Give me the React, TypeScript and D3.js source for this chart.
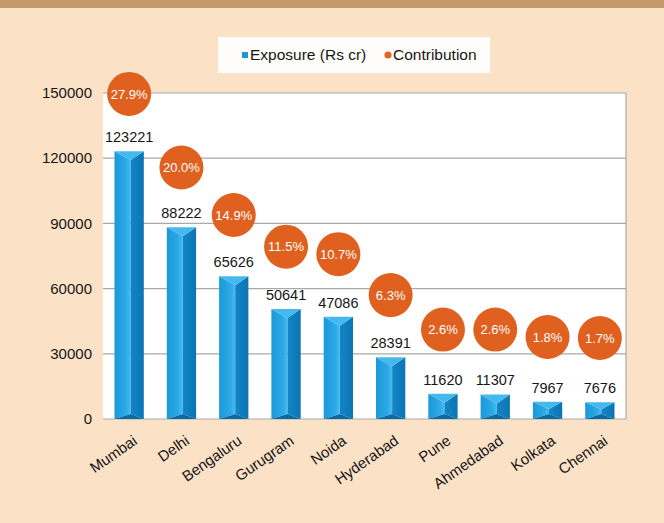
import React from 'react';
import * as d3 from 'd3';

const cities = ['Mumbai', 'Delhi', 'Bengaluru', 'Gurugram', 'Noida', 'Hyderabad', 'Pune', 'Ahmedabad', 'Kolkata', 'Chennai'];
const exposure = [123221, 88222, 65626, 50641, 47086, 28391, 11620, 11307, 7967, 7676];
const contribution = [27.9, 20.0, 14.9, 11.5, 10.7, 6.3, 2.6, 2.6, 1.8, 1.7];
const yTicks = [0, 30000, 60000, 90000, 120000, 150000];

const W = 664;
const H = 523;
const plot = { left: 103, right: 626, top: 93, bottom: 419 };

const font = "'Liberation Sans', Arial, Helvetica, sans-serif";
const narrow = "'Liberation Sans Narrow', 'Liberation Sans', Arial, sans-serif";
const ink = '#161616';

const App: React.FC = () => {
  const x = d3.scaleBand<string>()
    .domain(cities)
    .range([plot.left, plot.right])
    .paddingInner(0.44)
    .paddingOuter(0.22);

  const y = d3.scaleLinear().domain([0, 150000]).range([plot.bottom, plot.top]);
  // hidden secondary axis for the contribution bubbles
  const y2 = d3.scaleLinear().domain([-7, 28]).range([plot.bottom, plot.top]);

  const bw = x.bandwidth();

  return (
    <svg width={W} height={H} style={{ position: 'absolute', left: 0, top: 0 }}>
      <defs>
        <linearGradient id="leftFace" x1="0" x2="1" y1="0" y2="0">
          <stop offset="0%" stopColor="#1b98d8" />
          <stop offset="70%" stopColor="#2aa9e6" />
          <stop offset="100%" stopColor="#48bcef" />
        </linearGradient>
        <linearGradient id="rightFace" x1="0" x2="1" y1="0" y2="0">
          <stop offset="0%" stopColor="#1286c8" />
          <stop offset="100%" stopColor="#0b74b3" />
        </linearGradient>
      </defs>

      <rect x={0} y={0} width={W} height={H} fill="#fbe2c7" />
      <rect x={0} y={0} width={W} height={8} fill="#c4996c" />

      {/* legend */}
      <rect x={218} y={37} width={272} height={36} fill="#ffffff" fillOpacity={0.92} />
      <rect x={242} y={52} width={6} height={6} fill="#1c9ad8" />
      <text x={250} y={60} fontFamily={font} fontSize={15.5} fill={ink}>Exposure (Rs cr)</text>
      <circle cx={388} cy={55} r={3.6} fill="#e5662a" />
      <text x={393} y={60} fontFamily={font} fontSize={15.5} fill={ink}>Contribution</text>

      {/* plot area */}
      <rect x={plot.left} y={plot.top} width={plot.right - plot.left} height={plot.bottom - plot.top} fill="#ffffff" />
      {yTicks.map((t) => (
        <g key={t}>
          <line x1={plot.left} x2={plot.right} y1={y(t)} y2={y(t)} stroke="#a9a9a9" strokeWidth={1.2} />
          <text x={92} y={y(t)} dy="0.35em" textAnchor="end" fontFamily={font} fontSize={15} fill={ink}>{t}</text>
        </g>
      ))}
      <line x1={plot.right} x2={plot.right} y1={plot.top} y2={plot.bottom} stroke="#a9a9a9" strokeWidth={1.2} />

      {/* bars */}
      {cities.map((c, i) => {
        const x0 = x(c)!;
        const x1 = x0 + bw;
        const xm = x0 + bw * 0.55;
        const y0 = y(exposure[i]);
        const yb = y(0);
        const h = yb - y0;
        const b = Math.min(9, h * 0.42);
        const bb = Math.min(5, h * 0.3);
        const pts = (p: [number, number][]) => p.map((d) => d.join(',')).join(' ');
        return (
          <g key={c}>
            <polygon points={pts([[x0, y0], [xm, y0 + b], [xm, yb - bb], [x0, yb]])} fill="url(#leftFace)" />
            <polygon points={pts([[x1, y0], [xm, y0 + b], [xm, yb - bb], [x1, yb]])} fill="url(#rightFace)" />
            <polygon points={pts([[x0, y0], [x1, y0], [xm, y0 + b]])} fill="#45b9ee" />
            <polygon points={pts([[x0, yb], [x1, yb], [xm, yb - bb]])} fill="#0a6aa4" />
            <text x={x0 + bw / 2} y={y0 - 9} textAnchor="middle" fontFamily={font} fontSize={14.5} fill={ink}>{exposure[i]}</text>
          </g>
        );
      })}

      {/* contribution bubbles */}
      {cities.map((c, i) => {
        const cx = x(c)! + bw / 2;
        const cy = y2(contribution[i]);
        return (
          <g key={c + '-dot'}>
            <circle cx={cx} cy={cy} r={22} fill="#e0601f" />
            <text x={cx} y={cy} dy="0.36em" textAnchor="middle" fontFamily={narrow} fontSize={13} fill="#ffffff">
              {contribution[i].toFixed(1)}%
            </text>
          </g>
        );
      })}

      {/* x labels */}
      {cities.map((c) => {
        const cx = x(c)! + bw / 2 + 9;
        const cy = 443;
        return (
          <text key={c + '-lbl'} x={cx} y={cy} textAnchor="end" fontFamily={font} fontSize={15} fill={ink}
            transform={`rotate(-35, ${cx}, ${cy})`}>
            {c}
          </text>
        );
      })}
    </svg>
  );
};

export default App;
